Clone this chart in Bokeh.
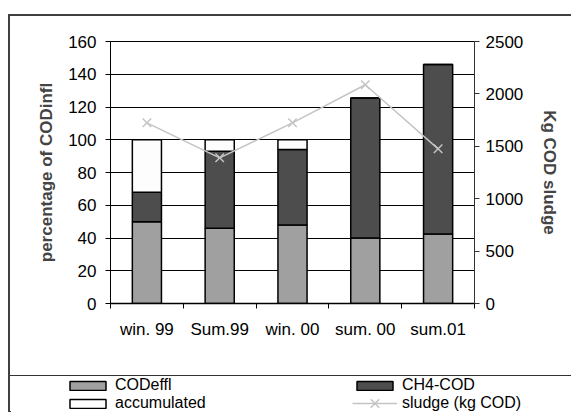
from bokeh.plotting import figure
from bokeh.layouts import row, column
from bokeh.models import (LinearAxis, Range1d, FixedTicker, Legend, LegendItem,
                          ColumnDataSource, Div, Spacer)
from bokeh.embed import file_html
from bokeh.resources import INLINE

# ---- data ----
categories = ["win. 99", "Sum.99", "win. 00", "sum. 00", "sum.01"]
cod_effl = [50, 46, 48, 40, 42.5]
ch4_cod = [18, 47, 46, 85.5, 103.5]
accumulated = [32, 7, 6, 0, 0]
sludge = [1724, 1390, 1724, 2087, 1476]
left_ticks = [0, 20, 40, 60, 80, 100, 120, 140, 160]
right_ticks = [0, 500, 1000, 1500, 2000, 2500]
series_labels = ["CODeffl", "CH4-COD", "accumulated", "sludge (kg COD)"]

FONT = "Liberation Sans"
FS = "17px"
LFS = "16px"
C_EFFL, C_CH4, C_ACC, C_SLUDGE = "#a0a0a0", "#4d4d4d", "#fdfdfd", "#c4c4c4"
FRAME = "#404040"

xpos = [i + 0.5 for i in range(len(categories))]
src = ColumnDataSource(dict(x=xpos, CODeffl=cod_effl, CH4=ch4_cod, acc=accumulated, sludge=sludge))


def draw_series(fig):
    bars = fig.vbar_stack(["CODeffl", "CH4", "acc"], x="x", width=0.4, source=src,
                          fill_color=[C_EFFL, C_CH4, C_ACC],
                          line_color="black", line_width=1.5)
    ln = fig.line("x", "sludge", source=src, y_range_name="sludge", line_color=C_SLUDGE, line_width=1.5)
    sc = fig.scatter("x", "sludge", source=src, y_range_name="sludge", marker="x", size=12,
                     line_color=C_SLUDGE, line_width=1.5)
    return bars, ln, sc


# ---- main chart ----
p = figure(width=561, height=359, output_backend="svg", toolbar_location=None,
           x_range=Range1d(0, len(categories)), y_range=Range1d(0, 160),
           min_border_left=100, min_border_right=97, min_border_top=25, min_border_bottom=72)
p.extra_y_ranges = {"sludge": Range1d(0, 2500)}
p.background_fill_color = "white"
p.border_fill_color = "white"
p.outline_line_color = "black"
p.outline_line_width = 1
draw_series(p)

xa = p.xaxis[0]
xa.ticker = FixedTicker(ticks=xpos, minor_ticks=list(range(len(categories) + 1)))
xa.major_label_overrides = {x: c for x, c in zip(xpos, categories)}
xa.major_tick_out = 0
xa.major_tick_in = 0
xa.minor_tick_out = 5
xa.minor_tick_in = 0
xa.minor_tick_line_color = "black"
xa.axis_line_color = "black"
xa.axis_line_width = 1.5
xa.major_label_standoff = 11
xa.major_label_text_font = FONT
xa.major_label_text_font_size = FS
xa.major_label_text_color = "black"

ya = p.yaxis[0]
ya.ticker = FixedTicker(ticks=left_ticks)
ya.axis_label = "percentage of CODinfl"
ya.axis_label_text_font = FONT
ya.axis_label_text_font_size = FS
ya.axis_label_text_font_style = "bold"
ya.axis_label_standoff = 9
ya.major_label_text_font = FONT
ya.major_label_text_font_size = FS
ya.major_label_text_color = "black"
ya.major_tick_out = 5
ya.major_tick_in = 0
ya.minor_tick_out = 0
ya.minor_tick_in = 0
ya.axis_line_color = "black"
ya.major_label_standoff = 9

ra = LinearAxis(y_range_name="sludge", ticker=FixedTicker(ticks=right_ticks))
ra.axis_label = "Kg COD sludge"
ra.axis_label_text_font = FONT
ra.axis_label_text_font_size = FS
ra.axis_label_text_font_style = "bold"
ra.axis_label_standoff = 14
ra.major_label_text_font = FONT
ra.major_label_text_font_size = FS
ra.major_label_text_color = "black"
ra.major_tick_out = 5
ra.major_tick_in = 0
ra.minor_tick_out = 0
ra.minor_tick_in = 0
ra.axis_line_color = "#333333"
ra.major_tick_line_color = "#333333"
ra.major_label_standoff = 6
p.add_layout(ra, "right")

p.xgrid.grid_line_color = None
p.ygrid.grid_line_color = "black"
p.ygrid.grid_line_width = 1

# ---- legend panel (series drawn out of view, only the legend shows) ----
lf = figure(width=561, height=36, output_backend="svg", toolbar_location=None,
            x_axis_location=None, y_axis_location=None,
            x_range=Range1d(100, 101), y_range=Range1d(1000, 1001),
            min_border_left=0, min_border_right=0, min_border_top=0, min_border_bottom=0)
lf.extra_y_ranges = {"sludge": Range1d(100000, 100001)}
lf.outline_line_color = None
lf.background_fill_color = "white"
lf.border_fill_color = "white"
lf.grid.visible = False
lbars, lln, lsc = draw_series(lf)


def make_legend(items, loc, gh=11, lh=18):
    return Legend(items=items, location=loc, orientation="vertical",
                  glyph_width=45, glyph_height=gh, label_standoff=5, spacing=0,
                  label_height=lh, padding=0, margin=0,
                  border_line_color=None, background_fill_alpha=0,
                  label_text_font=FONT, label_text_font_size=LFS, label_text_color="black")


lf.add_layout(make_legend([LegendItem(label=series_labels[0], renderers=[lbars[0]]),
                           LegendItem(label=series_labels[2], renderers=[lbars[2]])], (55, 0)))
lf.add_layout(make_legend([LegendItem(label=series_labels[1], renderers=[lbars[1]])], (342, 18)))
lf.add_layout(make_legend([LegendItem(label=series_labels[3], renderers=[lln, lsc])], (342, -6),
                          gh=30, lh=30))


def hline(w, h, color):
    return Div(text="", width=w, height=h, margin=0, styles={"background-color": color})


layout = column(
    Spacer(width=571, height=14, margin=0),
    row(Spacer(width=8, height=361, margin=0), hline(2, 361, FRAME),
        column(hline(561, 2, FRAME), p, spacing=0), spacing=0),
    row(Spacer(width=8, height=37, margin=0), hline(2, 37, FRAME),
        column(hline(561, 1, "#333333"), lf, spacing=0), spacing=0),
    spacing=0)

open("out.html", "w").write(file_html(layout, INLINE))
